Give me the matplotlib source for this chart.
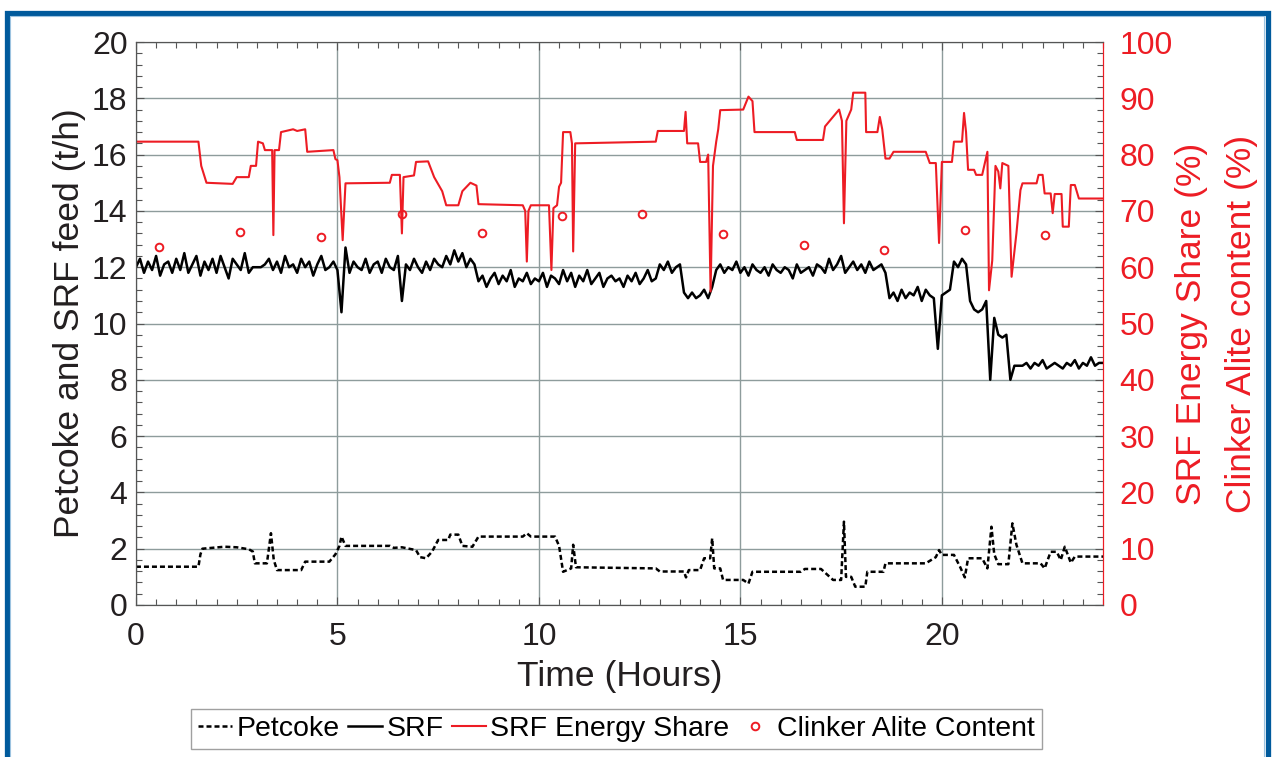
import numpy as np
import matplotlib
matplotlib.use('Agg')
import matplotlib.pyplot as plt
from matplotlib.patches import Rectangle
from matplotlib.ticker import MultipleLocator

plt.rcParams['font.family'] = ['Liberation Sans', 'DejaVu Sans']

# SRF feed (t/h), read every 0.1 h from 0 to 24 h
srf_v = [
    12.0, 12.3, 11.8, 12.2, 11.9, 12.4, 11.7, 12.1, 12.2, 11.8,
    12.3, 11.9, 12.5, 11.8, 12.1, 12.4, 11.7, 12.2, 11.9, 12.3,
    11.8, 12.4, 12.0, 11.6, 12.3, 12.1, 11.9, 12.5, 11.8, 12.0,
    12.0, 12.0, 12.1, 12.3, 11.9, 12.2, 11.8, 12.4, 12.0, 12.1,
    11.8, 12.3, 12.0, 12.2, 11.7, 12.1, 12.4, 11.9, 12.0, 12.2,
    11.9, 10.4, 12.7, 11.8, 12.2, 12.0, 11.9, 12.3, 11.8, 12.1,
    12.2, 11.8, 12.3, 12.0, 11.9, 12.4, 10.8, 12.1, 11.9, 12.3,
    12.0, 11.8, 12.2, 11.9, 12.3, 12.1, 12.0, 12.4, 12.1, 12.6,
    12.2, 12.5, 12.0, 12.3, 12.1, 11.5, 11.7, 11.3, 11.6, 11.8,
    11.4, 11.7, 11.5, 11.9, 11.3, 11.6, 11.5, 11.8, 11.4, 11.6,
    11.5, 11.8, 11.3, 11.7, 11.6, 11.4, 11.9, 11.5, 11.8, 11.3,
    11.7, 11.5, 11.9, 11.4, 11.6, 11.8, 11.3, 11.6, 11.7, 11.5,
    11.6, 11.3, 11.7, 11.5, 11.8, 11.4, 11.6, 11.9, 11.5, 11.6,
    12.1, 11.9, 12.2, 11.8, 12.0, 12.1, 11.1, 10.9, 11.1, 10.9,
    11.0, 11.2, 10.9, 11.3, 11.9, 12.1, 11.8, 12.0, 11.9, 12.2,
    11.8, 12.0, 11.7, 12.1, 11.9, 11.8, 12.0, 11.7, 12.1, 11.9,
    11.8, 12.0, 11.9, 11.6, 12.1, 11.8, 11.9, 12.0, 11.7, 12.1,
    12.0, 11.8, 12.3, 11.9, 12.1, 12.4, 11.8, 12.0, 12.2, 11.9,
    12.1, 11.8, 12.2, 11.9, 12.0, 12.1, 11.8, 10.9, 11.1, 10.8,
    11.2, 10.9, 11.1, 11.0, 11.3, 10.8, 11.2, 11.0, 10.9, 9.1,
    11.0, 11.1, 11.2, 12.2, 12.0, 12.3, 12.1, 10.8, 10.5, 10.4,
    10.5, 10.8, 8.0, 10.2, 9.6, 9.5, 9.6, 8.0, 8.5, 8.5,
    8.5, 8.6, 8.4, 8.6, 8.5, 8.7, 8.4, 8.5, 8.6, 8.5,
    8.4, 8.6, 8.5, 8.7, 8.4, 8.6, 8.5, 8.8, 8.5, 8.6,
    8.6,
]
srf_t = [i / 10 for i in range(len(srf_v))]

# Petcoke feed (t/h)
pet_t = [0, 1.55, 1.6, 1.65, 2.2, 2.5, 2.8, 2.9, 2.95, 3.25, 3.35, 3.42, 3.5,
         4.1, 4.2, 4.8, 4.95, 5.05, 5.1, 5.2, 6.3, 6.4, 6.6, 6.95, 7.05, 7.2,
         7.35, 7.5, 7.75, 7.8, 8.0, 8.1, 8.35, 8.5, 9.6, 9.7, 9.8, 10.4, 10.5,
         10.6, 10.8, 10.85, 10.92, 12.9, 13.0, 13.6, 13.65, 13.72, 14.0, 14.1,
         14.25, 14.3, 14.35, 14.5, 14.57, 15.07, 15.2, 15.3, 16.5, 16.6, 17.0,
         17.3, 17.5, 17.57, 17.62, 17.75, 17.85, 18.1, 18.15, 18.55, 18.6, 19.6,
         19.85, 19.93, 20.0, 20.3, 20.45, 20.57, 20.65, 21.0, 21.13, 21.23, 21.3,
         21.4, 21.65, 21.75, 21.85, 22.0, 22.45, 22.55, 22.7, 22.85, 22.95,
         23.05, 23.2, 23.3, 24]
pet_v = [1.36, 1.36, 1.8, 2.0, 2.07, 2.05, 1.98, 1.9, 1.48, 1.48, 2.55, 1.6, 1.24,
         1.24, 1.54, 1.54, 1.8, 2.1, 2.43, 2.1, 2.1, 2.03, 2.05, 1.95, 1.7, 1.66,
         1.9, 2.31, 2.31, 2.5, 2.5, 2.1, 2.07, 2.43, 2.43, 2.55, 2.43, 2.43, 2.1,
         1.18, 1.3, 2.14, 1.34, 1.3, 1.19, 1.19, 0.98, 1.24, 1.24, 1.66,
         1.66, 2.37, 1.3, 1.3, 0.89, 0.89, 0.76, 1.18, 1.18, 1.28, 1.28,
         0.89, 0.89, 2.96, 1.0, 1.0, 0.65, 0.65, 1.18, 1.18, 1.48, 1.48,
         1.7, 1.95, 1.78, 1.78, 1.36, 0.98, 1.66, 1.66, 1.3, 2.78, 1.8,
         1.45, 1.45, 2.9, 2.14, 1.48, 1.48, 1.3, 1.89, 1.89, 1.6,
         2.07, 1.5, 1.72, 1.72]

# SRF energy share (%)
share_t = [0, 1.55, 1.62, 1.75, 2.4, 2.5, 2.8, 2.85, 2.98, 3.03, 3.15, 3.2, 3.38,
           3.41, 3.44, 3.55, 3.6, 3.9, 4.0, 4.2, 4.25, 4.9, 4.95, 5.0, 5.05, 5.13,
           5.2, 6.3, 6.35, 6.55, 6.6, 6.64, 6.9, 6.95, 7.25, 7.4, 7.6, 7.7, 8.0,
           8.1, 8.3, 8.45, 8.5, 9.6, 9.66, 9.7, 9.74, 9.8, 10.25, 10.31, 10.36,
           10.45, 10.5, 10.55, 10.6, 10.78, 10.82, 10.85, 10.9, 12.9, 12.95, 13.6,
           13.64, 13.68, 13.95, 14.0, 14.15, 14.2, 14.26, 14.32, 14.4, 14.45, 14.5,
           15.07, 15.2, 15.3, 15.35, 16.35, 16.4, 17.05, 17.1, 17.45, 17.52, 17.57,
           17.63, 17.75, 17.8, 18.1, 18.12, 18.4, 18.46, 18.52, 18.6, 18.7, 18.8,
           19.6, 19.7, 19.85, 19.93, 20.0, 20.25, 20.3, 20.5, 20.55, 20.6, 20.65,
           20.8, 20.85, 21.0, 21.05, 21.13, 21.17, 21.25, 21.33, 21.4, 21.45, 21.5,
           21.65, 21.73, 21.85, 21.95, 22.0, 22.35, 22.4, 22.5, 22.55, 22.7, 22.75,
           22.8, 22.97, 23.0, 23.15, 23.2, 23.3, 23.4, 24]
share_v = [82.3, 82.3, 78, 75, 74.8, 76, 76, 78, 78, 82.3, 82, 80.8, 80.8,
           65.7, 80.8, 80.8, 84, 84.5, 84.2, 84.5, 80.5, 80.8, 79.2, 79, 76, 64.8,
           74.9, 75, 76.4, 76.4, 66, 76, 76.3, 78.7, 78.8, 76, 73.5, 71, 71,
           73.5, 75, 74.5, 71.2, 71, 70, 61, 70, 71, 71, 59.5, 70.5,
           71, 74.3, 75, 84, 84, 82, 62.8, 82, 82.3, 84.2, 84.2,
           87.6, 82, 82, 78.7, 78.7, 80, 55.7, 78, 82.3, 84.5, 87.9,
           88, 90.3, 89.5, 84, 84, 82.6, 82.6, 85, 88, 86, 67.8,
           86, 88, 91, 91, 84, 84, 86.7, 84.5, 79.3, 79.3, 80.5,
           80.5, 78.5, 78.5, 64.3, 78.7, 78.7, 82.3, 82.3, 87.4, 84, 77.3,
           77.3, 76.4, 76.4, 78, 80.5, 55.9, 61.2, 78, 77, 74, 78.5,
           78, 58.3, 66, 73.7, 74.9, 74.9, 76.4, 76.4, 73.1, 73.1, 69.6,
           73, 73, 67.2, 67.2, 74.6, 74.6, 72.2, 72.2]

# clinker alite content (%)
alite_t = [0.58, 2.58, 4.58, 6.59, 8.58, 10.58, 12.57, 14.57, 16.57, 18.57, 20.57, 22.56]
alite_v = [63.6, 66.2, 65.4, 69.4, 66.0, 69.1, 69.4, 65.9, 64.0, 63.0, 66.6, 65.8]

RED = '#ED1C24'
GRID = '#8E9C9C'
TXT = '#231F20'

fig = plt.figure(figsize=(12.73, 7.57), dpi=100)
ax = fig.add_axes([0.1068, 0.2008, 0.7597, 0.7437])
ax2 = ax.twinx()

l_pet, = ax.plot(pet_t, pet_v, color='black', lw=1.8, ls=(0, (2.0, 1.2)), label='Petcoke')
l_srf, = ax.plot(srf_t, srf_v, color='black', lw=1.8, label='SRF')
l_share, = ax2.plot(share_t, share_v, color=RED, lw=1.5, label='SRF Energy Share')
l_alite, = ax2.plot(alite_t, alite_v, ls='none', marker='o', ms=5.5, mfc='none',
                    mec=RED, mew=1.4, label='Clinker Alite Content')

ax.set_xlim(0, 24)
ax.set_ylim(0, 20)
ax2.set_ylim(0, 100)
ax.set_xticks([0, 5, 10, 15, 20])
ax.xaxis.set_minor_locator(MultipleLocator(0.5))
ax.set_yticks(np.arange(0, 21, 2))
ax.yaxis.set_minor_locator(MultipleLocator(0.4))
ax2.set_yticks(np.arange(0, 101, 10))
ax2.yaxis.set_minor_locator(MultipleLocator(2))

ax.grid(True, which='major', color=GRID, lw=1.0)
ax.set_axisbelow(True)

for a in (ax, ax2):
    a.tick_params(which='both', direction='in', color='#555555')
    a.tick_params(which='major', length=6, width=0.8)
    a.tick_params(which='minor', length=4, width=0.8)
ax.tick_params(top=True, which='both')
ax.tick_params(axis='y', labelsize=23, labelcolor=TXT, pad=6)
ax.tick_params(axis='x', labelsize=23, labelcolor=TXT, pad=12)
ax2.tick_params(axis='y', labelsize=23, labelcolor=RED, pad=12)

for s in ('left', 'top', 'bottom'):
    ax.spines[s].set_color('#555555')
    ax2.spines[s].set_color('#555555')
ax2.spines['right'].set_color(RED)
ax.spines['right'].set_color(RED)

ax.set_xlabel('Time (Hours)', fontsize=25.5, color=TXT, labelpad=6)
ax.set_ylabel('Petcoke and SRF feed (t/h)', fontsize=25.5, color=TXT, labelpad=4)
ax2.set_ylabel('SRF Energy Share (%)\nClinker Alite content (%)', fontsize=25.5,
               color=RED, linespacing=1.65)
ax2.yaxis.set_label_coords(1.074, 0.5)

leg = fig.legend([l_pet, l_srf, l_share, l_alite],
                 ['Petcoke', 'SRF', 'SRF Energy Share', 'Clinker Alite Content'],
                 loc='center', bbox_to_anchor=(0.484, 0.037), ncol=4, fontsize=20.5,
                 frameon=True, fancybox=False, edgecolor='#888888',
                 handlelength=1.2, handletextpad=0.15, columnspacing=0.3,
                 borderpad=0.25, borderaxespad=0)
leg.get_frame().set_linewidth(1.0)

# blue frame around the figure
fig.patches.append(Rectangle((6.5 / 1273, -0.05), (1267.5 - 6.5) / 1273, 1 - 12.5 / 757 + 0.05,
                             transform=fig.transFigure, fill=False,
                             edgecolor='#005A9C', lw=3.8, zorder=10))
fig.patches.append(Rectangle((10 / 1273, -0.05), (1264 - 10) / 1273, 1 - 16 / 757 + 0.05,
                             transform=fig.transFigure, fill=False,
                             edgecolor='#9CC3E0', lw=0.8, zorder=10))

fig.savefig('out.png', dpi=100)
